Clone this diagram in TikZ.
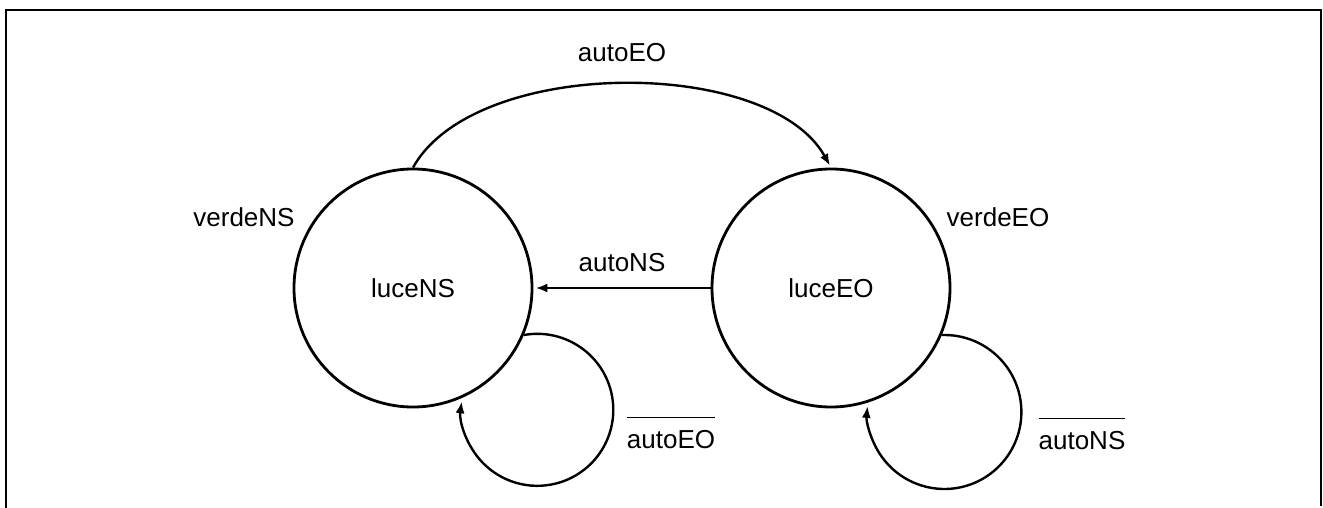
\documentclass[tikz,border=0pt]{standalone}
\usepackage{fontspec}
\setmainfont{Liberation Sans}
\usetikzlibrary{automata,positioning,arrows.meta}

\begin{document}
\begin{tikzpicture}[x=0.5pt,y=-0.5pt,>={Latex[length=6pt,width=4.5pt]},shorten >=1pt,node distance=209pt,on grid,auto,
    every state/.style={minimum size=119pt,line width=1.4pt,inner sep=0pt},
    font=\fontsize{13}{15}\selectfont,line width=1.2pt]
  \useasboundingbox (0,0) rectangle (1323,508);
  \draw[line width=1pt] (6,508) -- (6,10) -- (1321,10) -- (1321,508);
  \node[state] (ns) at (413,288) {luceNS};
  \node[state] (eo) [right=of ns] {luceEO};
  \node (vns) [above left=35.5pt and 84.5pt of ns] {verdeNS};
  \node (veo) [above right=35.5pt and 83.5pt of eo] {verdeEO};
  \node (nons) [below right=72.25pt and 129pt of ns] {$\overline{\mbox{\rule{0pt}{14pt}autoEO}}$};
  \node (noeo) [below right=72.75pt and 125.5pt of eo] {$\overline{\mbox{\rule{0pt}{14pt}autoNS}}$};
  \path[->]
  (ns.north) edge[out=61,in=119,looseness=0.78] node[above=7.5pt] {autoEO} (eo.north)
  (eo) edge node[above=4pt] {autoNS} (ns);
  % self loops
  \draw[->] (ns.-23) arc[start angle=100.2, end angle=-188, radius=38pt];
  \draw[->] (eo.-23) arc[start angle=91.9, end angle=-186, radius=38.5pt];
\end{tikzpicture}
\end{document}
